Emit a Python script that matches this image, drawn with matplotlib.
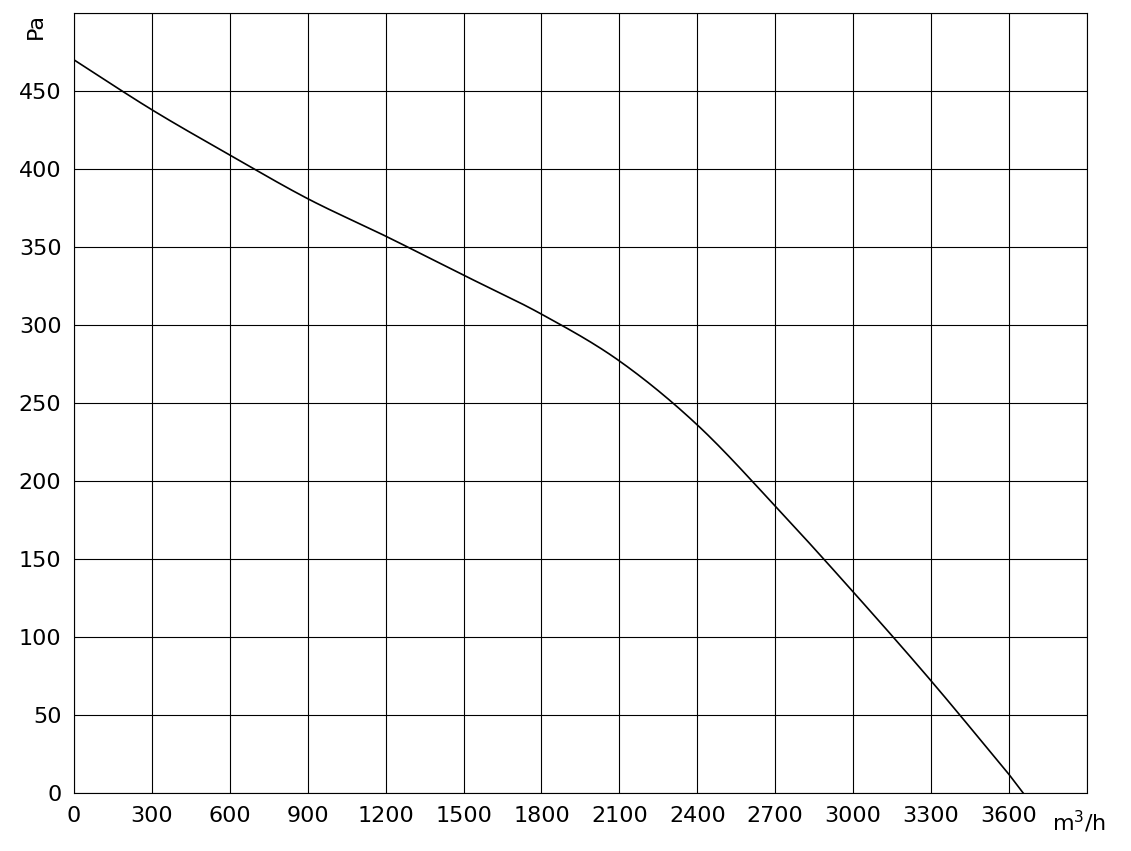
import matplotlib
matplotlib.use("Agg")
import matplotlib.pyplot as plt
import numpy as np

flow = [0, 300, 600, 900, 1200, 1500, 1800, 2100, 2400, 2700, 3000, 3300, 3600, 3655]
pressure = [470, 438, 409, 381, 357, 332, 307, 277, 236, 184, 129, 72, 12, 0]
xticks = [0, 300, 600, 900, 1200, 1500, 1800, 2100, 2400, 2700, 3000, 3300, 3600, 3900]
xticklabels = ["0", "300", "600", "900", "1200", "1500", "1800", "2100", "2400", "2700", "3000", "3300", "3600", ""]
yticks = [0, 50, 100, 150, 200, 250, 300, 350, 400, 450, 500]
yticklabels = ["0", "50", "100", "150", "200", "250", "300", "350", "400", "450", ""]

plt.rcParams['font.family'] = ['DejaVu Sans']
fig = plt.figure(figsize=(11.31, 8.51), dpi=100)
ax = fig.add_axes([0.0654, 0.068, 0.8956, 0.9167])

def catmull(xp, yp, n=30):
    P = list(zip(xp, yp))
    P = [P[0]] + P + [P[-1]]
    out = []
    for i in range(1, len(P) - 2):
        p0, p1, p2, p3 = map(np.array, (P[i-1], P[i], P[i+1], P[i+2]))
        for t in np.linspace(0, 1, n, endpoint=False):
            t2, t3 = t*t, t*t*t
            out.append(0.5*((2*p1) + (-p0+p2)*t + (2*p0-5*p1+4*p2-p3)*t2 + (-p0+3*p1-3*p2+p3)*t3))
    out.append(np.array(P[-2]))
    return np.array(out)

c = catmull(flow[:-1], pressure[:-1])
c = np.vstack([c, [[flow[-1], pressure[-1]]]])
ax.plot(c[:, 0], c[:, 1], color='black', lw=1.2)

ax.set_xlim(0, 3900)
ax.set_ylim(0, 500)
ax.set_xticks(xticks)
ax.set_xticklabels(xticklabels, fontsize=16)
ax.set_yticks(yticks)
ax.set_yticklabels(yticklabels, fontsize=16)
ax.grid(True, color='black', lw=0.8)
ax.tick_params(length=0, pad=9)
for s in ax.spines.values():
    s.set_linewidth(0.8)
fig.text(0.930, 0.034, "m$^3$/h", fontsize=16, ha='left', va='center')
fig.text(0.032, 0.97, "Pa", fontsize=16, rotation=90, ha='center', va='center')
fig.savefig("out.png", dpi=100)
